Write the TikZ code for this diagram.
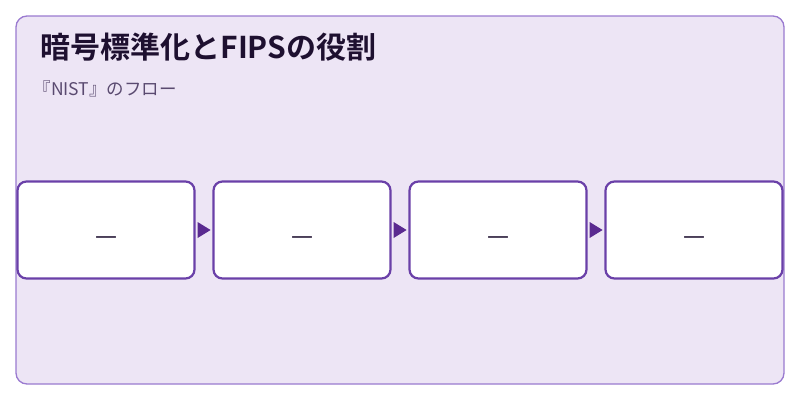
\documentclass[tikz,border=0pt]{standalone}
\usepackage{fontspec}
\setmainfont{Noto Sans CJK JP}
\newfontfamily\cjkb{Noto Sans CJK JP Bold}
\newfontfamily\dashfont{DejaVu Sans}
\usetikzlibrary{arrows.meta}
\definecolor{bg}{HTML}{EDE5F5}
\definecolor{frame}{HTML}{9A7AD0}
\definecolor{boxline}{HTML}{6A40A8}
\definecolor{arr}{HTML}{5A2A90}
\definecolor{titlec}{HTML}{1E1030}
\definecolor{subc}{HTML}{5A4A70}
\newcommand{\stepdash}{\smash{\raisebox{-13pt}{\dashfont\fontsize{22}{24}\selectfont —}}}
\tikzset{stepbox/.style={draw=boxline,line width=2.2pt,fill=white,rounded corners=9pt,minimum width=177pt,minimum height=97pt,inner sep=0pt,text=titlec}}
\begin{document}
\begin{tikzpicture}[x=1pt,y=-1pt]
\useasboundingbox (0,0) rectangle (800,400);
\fill[white] (0,0) rectangle (800,400);
\draw[frame,fill=bg,line width=1.3pt,rounded corners=11pt] (16,16) rectangle (784,384);
\node[anchor=west,font=\cjkb\fontsize{30}{34}\selectfont,text=titlec] (title) at (37,47) {暗号標準化とFIPSの役割};
\node[anchor=west,font=\fontsize{17.5}{20}\selectfont,text=subc] (sub) at (30,89) {『NIST』のフロー};
\node[stepbox] (b1) at (106,230) {\stepdash};
\node[stepbox] (b2) at (302,230) {\stepdash};
\node[stepbox] (b3) at (498,230) {\stepdash};
\node[stepbox] (b4) at (694,230) {\stepdash};
\fill[arr] (b1.east)++(2,-8) -- ++(13,8) -- ++(-13,8) -- cycle;
\fill[arr] (b2.east)++(2,-8) -- ++(13,8) -- ++(-13,8) -- cycle;
\fill[arr] (b3.east)++(2,-8) -- ++(13,8) -- ++(-13,8) -- cycle;
\end{tikzpicture}
\end{document}
